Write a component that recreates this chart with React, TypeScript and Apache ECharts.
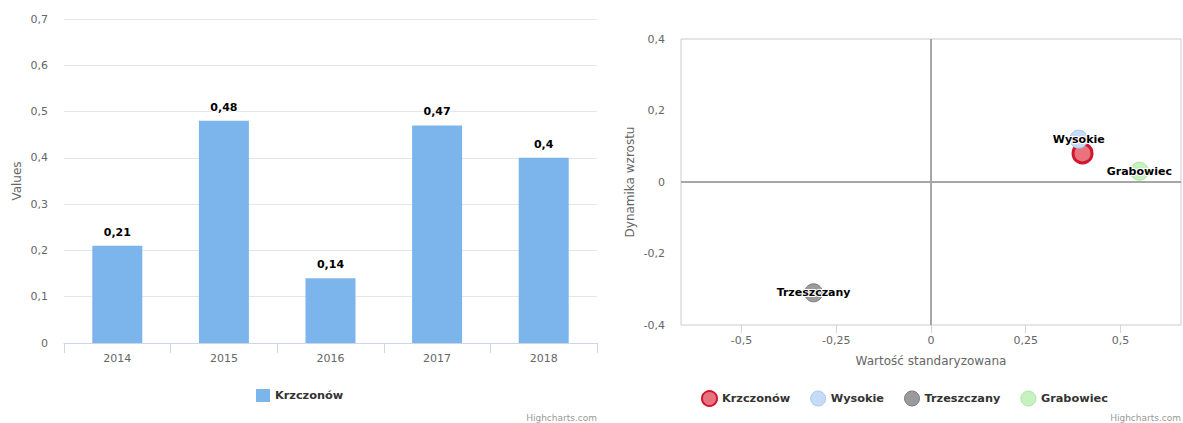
import React, { useEffect, useRef } from "react";
import * as echarts from "echarts";

// Left chart data
const years = ["2014", "2015", "2016", "2017", "2018"];
const barValues = [0.21, 0.48, 0.14, 0.47, 0.4];
const barName = "Krzczonów";

// Right chart data
const pointNames = ["Krzczonów", "Wysokie", "Trzeszczany", "Grabowiec"];
const pointX = [0.4, 0.39, -0.31, 0.55];
const pointY = [0.08, 0.12, -0.31, 0.03];
const pointLabelShown = [false, true, true, true];
const xTickValues = [-0.5, -0.25, 0, 0.25, 0.5];

// Styles
const pointFill = ["#e8737f", "#c6dbf5", "#9b9b9b", "#c6f2bf"];
const pointBorder = ["#cf1830", "#a9c7ee", "#7a7a7a", "#a8e6a0"];
const pointBorderWidth = [3, 1, 1, 1];
const pointSize = [19, 18, 18, 18];

const FONT = '"Lucida Grande", "DejaVu Sans", "Noto Sans", sans-serif';

const fmt = (v: number) => {
  const r = Math.round(v * 100) / 100;
  return String(r).replace(".", ",");
};

export default function App() {
  const ref = useRef<HTMLDivElement>(null);

  useEffect(() => {
    if (!ref.current) return;
    const chart = echarts.init(ref.current, undefined, { renderer: "svg" });

    const scatterSeries = pointNames.map((name, i) => ({
      type: "scatter",
      name,
      xAxisIndex: 1,
      yAxisIndex: 1,
      z: 5,
      symbol: "circle",
      symbolSize: pointSize[i],
      data: [[pointX[i], pointY[i]]],
      itemStyle: {
        color: pointFill[i],
        borderColor: pointBorder[i],
        borderWidth: pointBorderWidth[i],
        opacity: 1,
      },
      label: {
        show: pointLabelShown[i],
        position: "inside",
        formatter: name,
        fontFamily: FONT,
        fontSize: 11,
        fontWeight: "bold",
        color: "#000",
        textBorderColor: "#fff",
        textBorderWidth: 2,
      },
    }));

    chart.setOption({
      animation: false,
      backgroundColor: "#fff",
      textStyle: { fontFamily: FONT },
      grid: [
        { left: 64, right: 586, top: 19, bottom: 80, show: false },
        {
          left: 681,
          right: 2,
          top: 39,
          bottom: 98,
          show: true,
          borderColor: "#cccccc",
          borderWidth: 1,
          backgroundColor: "transparent",
        },
      ],
      xAxis: [
        {
          type: "category",
          gridIndex: 0,
          data: years,
          axisLine: { show: true, lineStyle: { color: "#ccd6eb", width: 1 } },
          axisTick: { show: true, length: 10, lineStyle: { color: "#ccd6eb" } },
          axisLabel: { color: "#666", fontSize: 11, margin: 10, fontFamily: FONT },
          splitLine: { show: false },
        },
        {
          type: "value",
          gridIndex: 1,
          min: -0.66,
          max: 0.66,
          axisLine: { show: false, onZero: false },
          axisTick: {
            show: true,
            length: 8,
            customValues: xTickValues,
            lineStyle: { color: "#ccd6eb" },
          },
          axisLabel: {
            color: "#666",
            fontSize: 11,
            margin: 10,
            fontFamily: FONT,
            customValues: xTickValues,
            formatter: (v: number) => fmt(v),
          },
          splitLine: { show: false },
          name: "Wartość standaryzowana",
          nameLocation: "middle",
          nameGap: 30,
          nameTextStyle: { color: "#666", fontSize: 12, fontFamily: FONT },
        },
      ],
      yAxis: [
        {
          type: "value",
          gridIndex: 0,
          min: 0,
          max: 0.7,
          interval: 0.1,
          axisLine: { show: false },
          axisTick: { show: false },
          axisLabel: {
            color: "#666",
            fontSize: 11,
            margin: 16,
            fontFamily: FONT,
            formatter: (v: number) => fmt(v),
          },
          splitLine: { show: true, lineStyle: { color: "#e6e6e6", width: 1 } },
          name: "Values",
          nameLocation: "middle",
          nameGap: 41,
          nameTextStyle: { color: "#666", fontSize: 12, fontFamily: FONT },
        },
        {
          type: "value",
          gridIndex: 1,
          min: -0.4,
          max: 0.4,
          interval: 0.2,
          axisLine: { show: false, onZero: false },
          axisTick: { show: false },
          axisLabel: {
            color: "#666",
            fontSize: 11,
            margin: 16,
            fontFamily: FONT,
            formatter: (v: number) => fmt(v),
          },
          splitLine: { show: false },
          name: "Dynamika wzrostu",
          nameLocation: "middle",
          nameGap: 45,
          nameTextStyle: { color: "#666", fontSize: 12, fontFamily: FONT },
        },
      ],
      legend: [
        {
          left: 256,
          top: 389,
          padding: 0,
          itemWidth: 14,
          itemHeight: 13,
          itemGap: 20,
          data: [{ name: barName, icon: "rect", itemStyle: { color: "#7cb5ec" } }],
          textStyle: { color: "#333", fontSize: 11.3, fontWeight: "bold", fontFamily: FONT },
          selectedMode: false,
        },
        {
          left: 701,
          top: 390,
          padding: 0,
          itemWidth: 15,
          itemHeight: 15,
          itemGap: 20,
          data: pointNames.map((n, i) => ({
            name: n,
            icon: "circle",
            itemStyle: {
              color: pointFill[i],
              borderColor: pointBorder[i],
              borderWidth: i === 0 ? 2 : 1,
            },
          })),
          textStyle: { color: "#333", fontSize: 11.3, fontWeight: "bold", fontFamily: FONT },
          selectedMode: false,
        },
      ],
      graphic: [
        {
          type: "text",
          right: 1183 - 597,
          top: 413,
          style: { text: "Highcharts.com", fill: "#999", fontSize: 9, fontFamily: FONT },
        },
        {
          type: "text",
          right: 2,
          top: 413,
          style: { text: "Highcharts.com", fill: "#999", fontSize: 9, fontFamily: FONT },
        },
      ],
      series: [
        {
          type: "bar",
          name: barName,
          xAxisIndex: 0,
          yAxisIndex: 0,
          data: barValues,
          barWidth: 50,
          itemStyle: { color: "#7cb5ec" },
          label: {
            show: true,
            position: "top",
            distance: 8,
            formatter: (p: any) => fmt(p.value),
            fontFamily: FONT,
            fontSize: 11,
            fontWeight: "bold",
            color: "#000",
            textBorderColor: "#fff",
            textBorderWidth: 2,
          },
        },
        {
          type: "scatter",
          name: "__zero",
          xAxisIndex: 1,
          yAxisIndex: 1,
          z: 1,
          data: [],
          markLine: {
            silent: true,
            symbol: ["none", "none"],
            label: { show: false },
            lineStyle: { color: "#a6a6a6", width: 2, type: "solid" },
            data: [{ xAxis: 0 }, { yAxis: 0 }],
          },
        },
        ...scatterSeries,
      ],
    });

    return () => chart.dispose();
  }, []);

  return (
    <div
      ref={ref}
      style={{ position: "absolute", left: 0, top: 0, width: 1183, height: 423 }}
    />
  );
}
